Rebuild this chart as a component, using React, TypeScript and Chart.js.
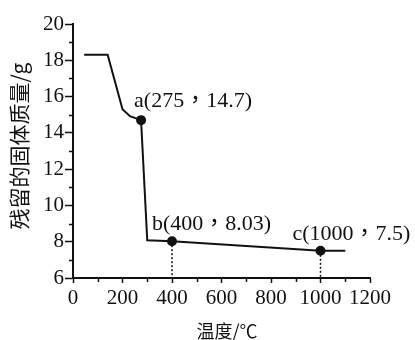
import { useEffect, useRef } from 'react';
import { Chart, registerables } from 'chart.js';

Chart.register(...registerables);

// ---- data ----
const tempC = [45, 140, 200, 230, 275, 300, 400, 1000, 1100];
const massG = [18.3, 18.3, 15.3, 14.92, 14.7, 8.08, 8.03, 7.5, 7.5];

const keyNames = ['a', 'b', 'c'];
const keyTemps = [275, 400, 1000];
const keyMasses = [14.7, 8.03, 7.5];
const dropKeys = ['b', 'c'];

const xTickValues = [0, 200, 400, 600, 800, 1000, 1200];
const xMinorValues = [100, 300, 500, 700, 900, 1100];
const yTickValues = [6, 8, 10, 12, 14, 16, 18, 20];
const yMinorValues = [7, 9, 11, 13, 15, 17, 19];

const yTitle = '残留的固体质量/g';
const xTitle = '温度/℃';

const INK = '#111';
const NUM_FONT = '"Liberation Serif", "Noto Sans CJK TC", serif';
const CJK_FONT = '"Noto Sans CJK SC", sans-serif';

// label offsets relative to the marked point (left edge, vertical centre)
const labelOffsets: Record<string, [number, number]> = {
  a: [-7, -19],
  b: [-20, -17],
  c: [-28, -17],
};

const decorPlugin = {
  id: 'decor',
  afterDraw(chart: any) {
    const { ctx, chartArea } = chart;
    const xs = chart.scales.x;
    const ys = chart.scales.y;
    ctx.save();
    ctx.strokeStyle = INK;
    ctx.fillStyle = INK;

    // minor ticks
    ctx.lineWidth = 1.5;
    ctx.beginPath();
    yMinorValues.forEach((v) => {
      const py = Math.round(ys.getPixelForValue(v)) + 0.5;
      ctx.moveTo(chartArea.left - 4, py);
      ctx.lineTo(chartArea.left, py);
    });
    xMinorValues.forEach((v) => {
      const px = Math.round(xs.getPixelForValue(v)) + 0.5;
      ctx.moveTo(px, chartArea.bottom);
      ctx.lineTo(px, chartArea.bottom + 4);
    });
    ctx.stroke();

    // dashed drop lines
    ctx.setLineDash([2, 2]);
    ctx.lineWidth = 1.5;
    keyNames.forEach((n, i) => {
      if (!dropKeys.includes(n)) return;
      const px = xs.getPixelForValue(keyTemps[i]);
      const py = ys.getPixelForValue(keyMasses[i]);
      ctx.beginPath();
      ctx.moveTo(px, py);
      ctx.lineTo(px, chartArea.bottom);
      ctx.stroke();
    });
    ctx.setLineDash([]);

    // point labels
    ctx.font = `22px ${NUM_FONT}`;
    ctx.textAlign = 'left';
    ctx.textBaseline = 'middle';
    keyNames.forEach((n, i) => {
      const px = xs.getPixelForValue(keyTemps[i]);
      const py = ys.getPixelForValue(keyMasses[i]);
      const [dx, dy] = labelOffsets[n];
      ctx.fillText(`${n}(${keyTemps[i]}，${keyMasses[i]})`, px + dx, py + dy);
    });

    // axis titles
    ctx.textAlign = 'center';
    ctx.font = `18px ${CJK_FONT}`;
    ctx.fillText(xTitle, 227, 331);
    ctx.save();
    ctx.translate(19, 146);
    ctx.rotate(-Math.PI / 2);
    ctx.font = `21px ${CJK_FONT}`;
    ctx.fillText(yTitle, 0, 0);
    ctx.restore();

    ctx.restore();
  },
};

export default function App() {
  const ref = useRef<HTMLCanvasElement>(null);

  useEffect(() => {
    const canvas = ref.current!;
    const chart = new Chart(canvas, {
      type: 'line',
      data: {
        datasets: [
          {
            data: tempC.map((t, i) => ({ x: t, y: massG[i] })),
            borderColor: INK,
            borderWidth: 2,
            backgroundColor: INK,
            pointBackgroundColor: INK,
            pointBorderColor: INK,
            pointRadius: (c: any) => (keyTemps.includes(tempC[c.dataIndex]) ? 4 : 0),
            pointHoverRadius: 0,
            tension: 0,
            fill: false,
          },
        ],
      },
      options: {
        animation: false,
        responsive: false,
        devicePixelRatio: 1,
        events: [],
        layout: { padding: { left: 0, top: 24, right: 45, bottom: 0 } },
        plugins: {
          legend: { display: false },
          tooltip: { enabled: false },
          title: { display: false },
        },
        scales: {
          x: {
            type: 'linear',
            min: 0,
            max: 1200,
            afterBuildTicks: (s: any) => {
              s.ticks = xTickValues.map((v) => ({ value: v }));
            },
            afterFit: (s: any) => {
              s.height = 62;
            },
            ticks: {
              autoSkip: false,
              maxRotation: 0,
              minRotation: 0,
              padding: 3,
              color: INK,
              font: { family: NUM_FONT, size: 21 },
              callback: (v: any) => String(v),
            },
            grid: {
              drawOnChartArea: false,
              drawTicks: true,
              tickLength: 5,
              tickWidth: 1.5,
              color: INK,
            },
            border: { display: true, color: INK, width: 2 },
          },
          y: {
            type: 'linear',
            min: 6,
            max: 20,
            afterBuildTicks: (s: any) => {
              s.ticks = yTickValues.map((v) => ({ value: v }));
            },
            afterFit: (s: any) => {
              s.width = 73;
            },
            ticks: {
              autoSkip: false,
              padding: 1,
              color: INK,
              font: { family: NUM_FONT, size: 21 },
              callback: (v: any) => String(v),
            },
            grid: {
              drawOnChartArea: false,
              drawTicks: true,
              tickLength: 8,
              tickWidth: 1.5,
              color: INK,
            },
            border: { display: true, color: INK, width: 2 },
          },
        },
      },
      plugins: [decorPlugin],
    });
    return () => chart.destroy();
  }, []);

  return (
    <div
      style={{
        position: 'absolute',
        left: 0,
        top: 0,
        width: 415,
        height: 340,
        background: '#fff',
      }}
    >
      <canvas
        ref={ref}
        width={415}
        height={340}
        style={{ display: 'block', width: 415, height: 340 }}
      />
    </div>
  );
}
